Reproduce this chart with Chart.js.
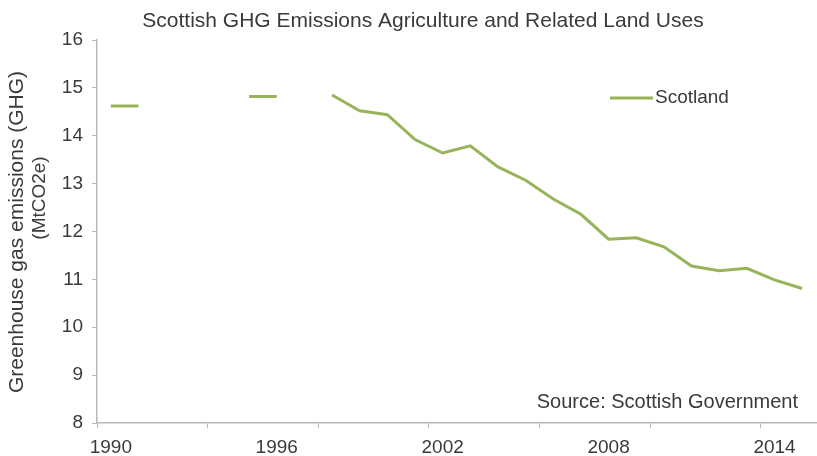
<!DOCTYPE html>
<html>
<head>
<meta charset="utf-8">
<script src="https://cdn.jsdelivr.net/npm/chart.js@4.4.1/dist/chart.umd.min.js"></script>
<style>
  html, body { margin: 0; padding: 0; background: #fff; }
  #wrap { width: 817px; height: 456px; }
</style>
</head>
<body>
<div id="wrap"><canvas id="grafico" width="817" height="456"></canvas></div>
<script>
// years on the category axis
const anos = ["1990", "1991", "1992", "1993", "1994", "1995", "1996", "1997", "1998", "1999",
              "2000", "2001", "2002", "2003", "2004", "2005", "2006", "2007", "2008", "2009",
              "2010", "2011", "2012", "2013", "2014", "2015"];
// MtCO2e, null where there is no figure
const emissoesEscocia = [14.62, 14.62, null, null, null, 14.82, 14.82, null, 14.85, 14.52,
                         14.44, 13.92, 13.64, 13.79, 13.35, 13.07, 12.68, 12.36, 11.84, 11.87,
                         11.68, 11.28, 11.18, 11.23, 10.99, 10.81];
const yTicks = [8, 9, 10, 11, 12, 13, 14, 15, 16];

const titulo = "Scottish GHG Emissions Agriculture and Related Land Uses";
const tituloY = ["Greenhouse gas emissions (GHG)", "(MtCO2e)"];
const nomeSerie = "Scotland";
const fonte = "Source: Scottish Government";

const corLinha = "#98b45a";
const corTexto = "#3a3a3a";
const corEixo = "#b8b8b8";
const familia = "'Liberation Sans', Arial, sans-serif";

// titles, legend and source note drawn straight on the canvas
const textos = {
    id: "textos",
    afterDraw(chart) {
        const c = chart.ctx;
        c.save();
        c.fillStyle = corTexto;
        c.textBaseline = "middle";

        c.font = "21px " + familia;
        c.textAlign = "center";
        c.fillText(titulo, 423, 21);

        // y axis title, rotated
        c.save();
        c.translate(17, 232);
        c.rotate(-Math.PI / 2);
        c.fillText(tituloY[0], 0, 0);
        c.restore();
        c.save();
        c.font = "19px " + familia;
        c.translate(40, 198);
        c.rotate(-Math.PI / 2);
        c.fillText(tituloY[1], 0, 0);
        c.restore();

        // legend
        c.strokeStyle = corLinha;
        c.lineWidth = 3;
        c.beginPath();
        c.moveTo(610, 98);
        c.lineTo(653, 98);
        c.stroke();
        c.font = "19px " + familia;
        c.textAlign = "left";
        c.fillText(nomeSerie, 655, 98);

        // source
        c.font = "20px " + familia;
        c.textAlign = "right";
        c.fillText(fonte, 798, 402);
        c.restore();
    }
};

new Chart(document.getElementById("grafico"), {
    type: "line",
    data: {
        labels: anos,
        datasets: [{
            label: nomeSerie,
            data: emissoesEscocia,
            borderColor: corLinha,
            borderWidth: 3,
            pointRadius: 0,
            tension: 0,
            spanGaps: false
        }]
    },
    options: {
        responsive: false,
        animation: false,
        layout: { padding: { top: 40, right: 1, bottom: 0, left: 0 } },
        plugins: {
            legend: { display: false },
            title: { display: false },
            tooltip: { enabled: false }
        },
        scales: {
            x: {
                offset: true,
                afterFit: s => { s.height = 33; },
                border: { color: corEixo, width: 1.5 },
                grid: {
                    offset: true,
                    drawOnChartArea: false,
                    tickLength: 5,
                    color: ctx => (ctx.index % 4 === 0 ? corEixo : "rgba(0,0,0,0)")
                },
                ticks: {
                    autoSkip: false,
                    maxRotation: 0,
                    padding: 8,
                    color: corTexto,
                    font: { family: familia, size: 19 },
                    callback: (v, i) => (i % 6 === 0 ? anos[i] : "")
                }
            },
            y: {
                min: 8,
                max: 16,
                afterFit: s => { s.width = 97; },
                afterBuildTicks: s => { s.ticks = yTicks.map(v => ({ value: v })); },
                border: { color: corEixo, width: 1.5 },
                grid: { drawOnChartArea: false, tickLength: 5, color: corEixo },
                ticks: {
                    padding: 9,
                    color: corTexto,
                    font: { family: familia, size: 19 }
                }
            }
        }
    },
    plugins: [textos]
});
</script>
</body>
</html>
